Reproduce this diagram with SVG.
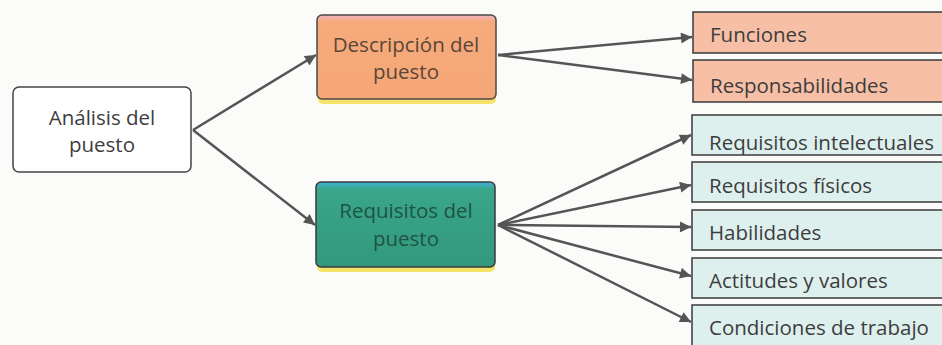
<svg xmlns="http://www.w3.org/2000/svg" width="942" height="345" viewBox="0 0 942 345">
<defs>
<style>
.t{font-family:"Open Sans","Liberation Sans",sans-serif;font-size:20.5px;fill:#3d3d3d}
.c{text-anchor:middle}
.conn line{stroke:#555;stroke-width:2.5;fill:none}
.leaf{stroke:#3a3a3a;stroke-width:1.5}
.o{fill:#f7c0a6}
.b{fill:#def0ee}
</style>
<marker id="ah" viewBox="0 0 10 10" refX="10" refY="5" markerWidth="6" markerHeight="4.4" markerUnits="strokeWidth" orient="auto">
<path d="M0,0 L10,5 L0,10 z" fill="#555"/>
</marker>
<linearGradient id="gOr" x1="0" y1="0" x2="0" y2="1">
<stop offset="0" stop-color="#f2b4c0"/>
<stop offset="0.08" stop-color="#f6ab7c"/>
<stop offset="1" stop-color="#f5a676"/>
</linearGradient>
<linearGradient id="gGr" x1="0" y1="0" x2="0" y2="1">
<stop offset="0" stop-color="#3fb0dc"/>
<stop offset="0.08" stop-color="#3aa68a"/>
<stop offset="1" stop-color="#33987c"/>
</linearGradient>
</defs>
<rect width="942" height="345" fill="#fbfbfa"/>

<g id="analisis">
<rect x="13" y="87" width="178" height="85" rx="6" fill="#ffffff" stroke="#444" stroke-width="1.5"/>
<text class="t c" x="102" y="125">Análisis del</text>
<text class="t c" x="102" y="152">puesto</text>
</g>

<g id="descripcion">
<rect x="318" y="18" width="178" height="86" rx="5" fill="#f6e46a"/>
<rect x="317" y="15" width="179" height="84" rx="5" fill="url(#gOr)" stroke="#4a4a4a" stroke-width="1.5"/>
<text class="t c" x="406" y="52" style="fill:#5a4638">Descripción del</text>
<text class="t c" x="406" y="79" style="fill:#5a4638">puesto</text>
</g>

<g id="requisitos">
<rect x="317" y="186" width="178" height="86" rx="5" fill="#f6e46a"/>
<rect x="316" y="182" width="179" height="85" rx="5" fill="url(#gGr)" stroke="#3a3a3a" stroke-width="1.5"/>
<text class="t c" x="406" y="218" style="fill:#1d5442">Requisitos del</text>
<text class="t c" x="406" y="246" style="fill:#1d5442">puesto</text>
</g>

<g id="funciones">
<rect class="leaf o" x="693" y="12" width="260" height="41"/>
<text class="t" x="710" y="42">Funciones</text>
</g>
<g id="responsabilidades">
<rect class="leaf o" x="693" y="60" width="260" height="42"/>
<text class="t" x="710" y="93">Responsabilidades</text>
</g>
<g id="intelectuales">
<rect class="leaf b" x="692" y="115" width="260" height="40"/>
<text class="t" x="709" y="150">Requisitos intelectuales</text>
</g>
<g id="fisicos">
<rect class="leaf b" x="692" y="162" width="260" height="40"/>
<text class="t" x="709" y="193">Requisitos físicos</text>
</g>
<g id="habilidades">
<rect class="leaf b" x="692" y="210" width="260" height="40"/>
<text class="t" x="709" y="240">Habilidades</text>
</g>
<g id="actitudes">
<rect class="leaf b" x="692" y="258" width="260" height="40"/>
<text class="t" x="709" y="288">Actitudes y valores</text>
</g>
<g id="condiciones">
<rect class="leaf b" x="692" y="305" width="260" height="45"/>
<text class="t" x="709" y="335">Condiciones de trabajo</text>
</g>

<g id="connectors" class="conn">
<line x1="193" y1="130" x2="316" y2="55" marker-end="url(#ah)"/>
<line x1="193" y1="130" x2="315" y2="225" marker-end="url(#ah)"/>
<line x1="498" y1="55" x2="692" y2="37" marker-end="url(#ah)"/>
<line x1="498" y1="55" x2="692" y2="80" marker-end="url(#ah)"/>
<line x1="498" y1="225" x2="691" y2="135" marker-end="url(#ah)"/>
<line x1="498" y1="225" x2="691" y2="185" marker-end="url(#ah)"/>
<line x1="498" y1="225" x2="691" y2="227" marker-end="url(#ah)"/>
<line x1="498" y1="225" x2="691" y2="276" marker-end="url(#ah)"/>
<line x1="498" y1="225" x2="691" y2="322" marker-end="url(#ah)"/>
</g>
</svg>
